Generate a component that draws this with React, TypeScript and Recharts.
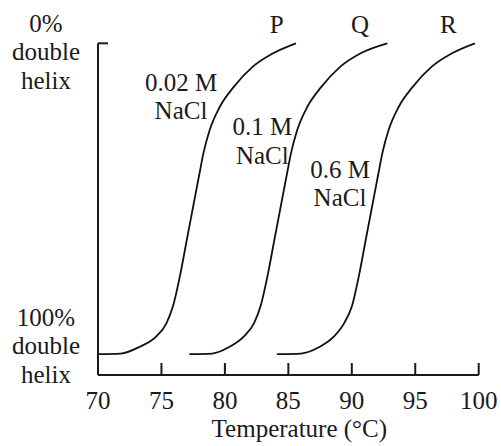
import { LineChart, Line, XAxis, YAxis, ReferenceDot, Label } from 'recharts'

// melting curves: temperature (°C) vs % denatured
const tempsP = [70, 71.8, 73.3, 74.6, 75.4, 75.9, 76.5, 77.0, 77.5, 78.0, 78.3, 78.8, 79.6, 80.7, 82.2, 83.8, 85.6]
const tempsQ = [77.2, 79.0, 80.3, 81.5, 82.3, 82.8, 83.4, 83.9, 84.4, 84.9, 85.2, 85.7, 86.5, 87.6, 89.1, 90.7, 92.8]
const tempsR = [84.1, 86.0, 87.4, 88.6, 89.4, 90.0, 90.6, 91.1, 91.6, 92.1, 92.4, 92.9, 93.7, 94.8, 96.3, 97.9, 99.7]
const valsP = [0, 0.2, 2.4, 5.7, 10, 15.3, 26, 36.8, 47.5, 58.2, 64.5, 72.1, 79.6, 86, 92.5, 96.8, 100]
const valsQ = [0, 0.2, 2.2, 5.7, 10, 15.3, 26, 36.8, 47.5, 58.2, 64.5, 72.1, 79.6, 86, 92.5, 96.8, 100]
const valsR = [0, 0.2, 2.2, 5.7, 10, 15.3, 26, 36.8, 47.5, 58.2, 64.5, 72.1, 79.6, 86, 92.5, 96.8, 100]

const xTicks = [70, 75, 80, 85, 90, 95, 100]
const yTicks = [0, 100]
const curveNames = ['P', 'Q', 'R']
const saltConc = ['0.02 M', '0.1 M', '0.6 M']

const FONT = 'Liberation Serif, DejaVu Serif, serif'
const INK = '#1a1a1a'
const txt = { fontFamily: FONT, fontSize: 25 }

const toPoints = (ts: number[], vs: number[]) => ts.map((t, i) => ({ t, v: vs[i] }))
const series = [toPoints(tempsP, valsP), toPoints(tempsQ, valsQ), toPoints(tempsR, valsR)]

// where the name / salt labels sit (data coords)
const nameAt = [[84.08, 103.2], [90.65, 103.2], [97.6, 103.2]]
const saltAt = [[76.54, 84.8], [82.95, 70.5], [89.07, 56.8]]

function XTick(props: any) {
  const { x, y, payload } = props
  return (
    <text x={x} y={y + 46} textAnchor="middle" style={txt} fill={INK}>
      {payload.value}
    </text>
  )
}

function YTick(props: any) {
  const { x, y, payload } = props
  const lines = payload.value === 100 ? ['0%', 'double', 'helix'] : ['100%', 'double', 'helix']
  const first = payload.value === 100 ? y - 11.6 : y - 28.3
  return (
    <g>
      {payload.value === 100 && <line x1={x} y1={y} x2={x + 10} y2={y} stroke={INK} strokeWidth={2} />}
      {lines.map((s, i) => (
        <text key={s} x={x - 52} y={first + i * 28.5} textAnchor="middle" style={txt} fill={INK}>
          {s}
        </text>
      ))}
    </g>
  )
}

const textAt = (lines: string[]) => (p: any) => {
  const vb = p.viewBox || {}
  const cx = (vb.x ?? 0) + (vb.width ?? 0) / 2
  const cy = (vb.y ?? 0) + (vb.height ?? 0) / 2
  return (
    <g>
      {lines.map((s, i) => (
        <text key={i} x={cx} y={cy + i * 28.6} textAnchor="middle" style={txt} fill={INK}>
          {s}
        </text>
      ))}
    </g>
  )
}

export default function App() {
  return (
    <div style={{ position: 'absolute', left: 0, top: 0, width: 501, height: 446, background: '#fff' }}>
      <LineChart width={501} height={446} margin={{ left: 0, right: 22.3, top: 43.3, bottom: 0 }}>
        <XAxis
          type="number"
          dataKey="t"
          domain={[70, 100]}
          ticks={xTicks}
          height={71}
          stroke={INK}
          strokeWidth={2}
          tickSize={-12}
          tickMargin={0}
          tick={<XTick />}
        >
          <Label
            content={(p: any) => {
              const vb = p.viewBox
              return (
                <text x={vb.x + vb.width / 2 + 11} y={vb.y + 62} textAnchor="middle" style={txt} fill={INK}>
                  Temperature (°C)
                </text>
              )
            }}
          />
        </XAxis>
        <YAxis
          type="number"
          dataKey="v"
          domain={[-6.7, 100]}
          ticks={yTicks}
          width={98}
          stroke={INK}
          strokeWidth={2}
          tickLine={false}
          tickSize={0}
          tickMargin={0}
          tick={<YTick />}
        />
        {series.map((d, i) => (
          <Line
            key={curveNames[i]}
            data={d}
            dataKey="v"
            type="monotone"
            stroke="#111"
            strokeWidth={1.8}
            dot={false}
            isAnimationActive={false}
          />
        ))}
        {curveNames.map((n, i) => (
          <ReferenceDot key={n} x={nameAt[i][0]} y={nameAt[i][1]} r={0} ifOverflow="visible" label={textAt([n])} />
        ))}
        {saltConc.map((c, i) => (
          <ReferenceDot key={c} x={saltAt[i][0]} y={saltAt[i][1]} r={0} ifOverflow="visible" label={textAt([c, 'NaCl'])} />
        ))}
      </LineChart>
    </div>
  )
}
